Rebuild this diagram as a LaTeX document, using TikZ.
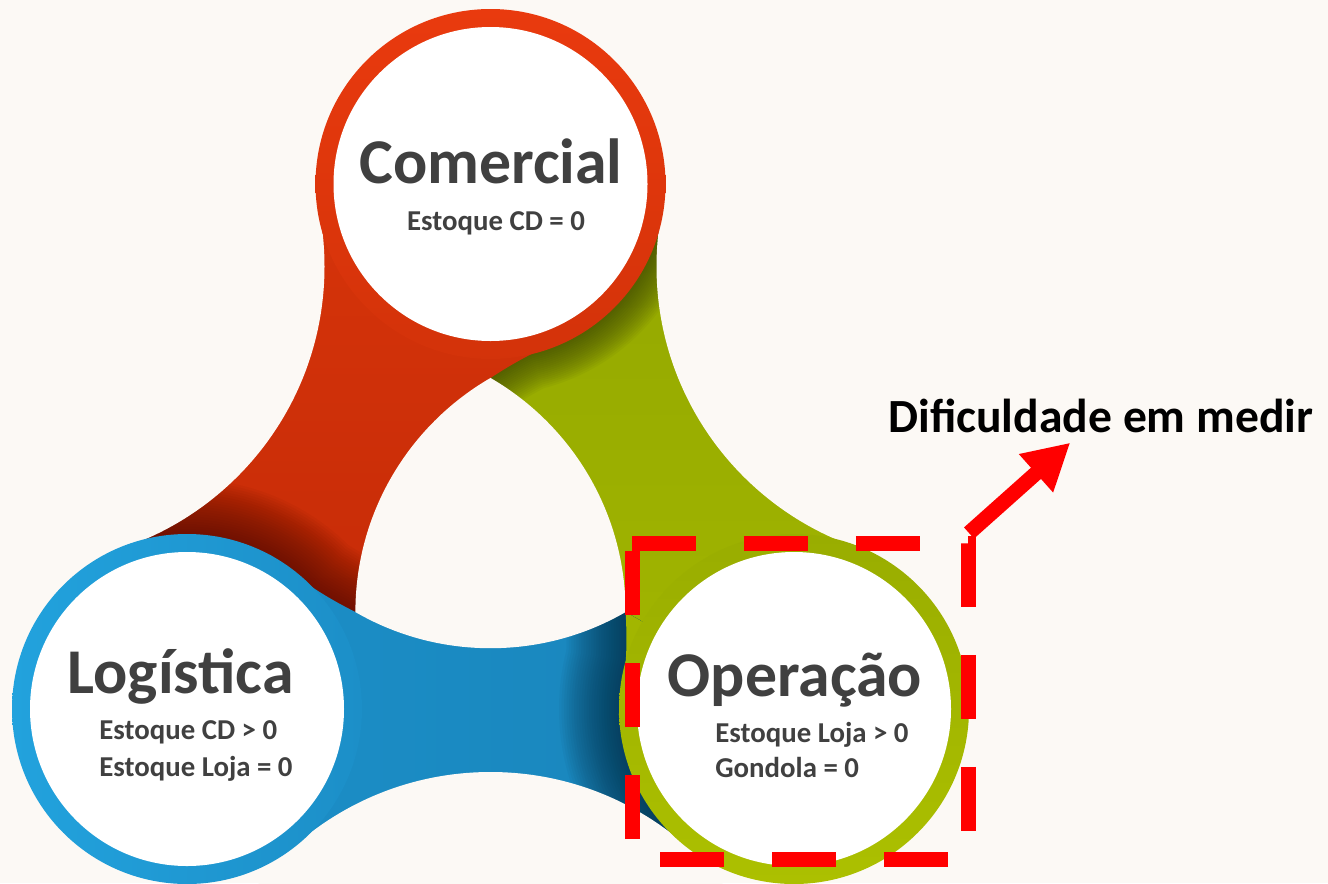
\documentclass[tikz,border=0pt]{standalone}
\usepackage{fontspec}
\setmainfont{Carlito}
\usetikzlibrary{arrows.meta}

\definecolor{cream}{HTML}{FCF9F5}
\definecolor{txtgray}{HTML}{404040}
\definecolor{redring}{HTML}{E93A0E}
\definecolor{redband}{HTML}{D6340A}
\definecolor{redlow}{HTML}{C42A07}
\definecolor{redshade}{HTML}{4A0A01}
\definecolor{bluering}{HTML}{22A2DD}
\definecolor{blueband}{HTML}{1C8FC8}
\definecolor{bluelow}{HTML}{1884BA}
\definecolor{blueshade}{HTML}{06283D}
\definecolor{greenring}{HTML}{ACC000}
\definecolor{greenband}{HTML}{93A700}
\definecolor{greenlow}{HTML}{A2B600}
\definecolor{greenshade}{HTML}{353D00}
\definecolor{alertred}{HTML}{FF0000}

\begin{document}
\begin{tikzpicture}[x=0.02cm, y=-0.02cm,
  title/.style={font=\bfseries\fontsize{36.3}{42}\selectfont, text=txtgray,
                inner sep=0pt, anchor=base},
  sub/.style={font=\bfseries\fontsize{16.4}{20}\selectfont, text=txtgray,
              inner sep=0pt, anchor=base west},
  note/.style={font=\bfseries\fontsize{27.1}{30}\selectfont, text=black,
               inner sep=0pt, anchor=base west},
  alertbox/.style={draw=alertred, line width=0.3cm, dash pattern=on 1.28cm off 0.96cm},
  pointer/.style={draw=alertred, line width=0.3cm, -{Triangle[length=0.92cm, width=0.96cm]}},
]
  % --- canvas ---
  \useasboundingbox (0,0) rectangle (1328,883);
  \fill[cream] (0,0) rectangle (1328,883);

  % --- circle centres, hole corners, band corners ---
  \coordinate (com) at (490.5,184);
  \coordinate (log) at (187,709);
  \coordinate (ope) at (794,709);
  \coordinate (hv1) at (490.5,378);
  \coordinate (hv2) at (355.4,612);
  \coordinate (hv3) at (625.6,612);
  \coordinate (ra) at (319.3,214.5);
  \coordinate (rb) at (128.2,545.5);
  \coordinate (rf) at (583.2,332.4);
  \coordinate (ba) at (299.4,842);
  \coordinate (bb) at (681.6,842);
  \coordinate (bf) at (269.6,554.5);
  \coordinate (ga) at (852.8,545.5);
  \coordinate (gb) at (661.7,214.5);
  \coordinate (gf) at (618.7,715);

  % --- green band (Operacao -> Comercial) ---
  \shade[top color=greenband, bottom color=greenlow]
    (ope) -- (ga) -- (gb) -- (com) -- (hv1) -- (hv3)
    .. controls (628.4,659.2) and (623.7,685.4) .. (gf) -- cycle;
  \begin{scope}
    \clip (ope) -- (ga) -- (gb) -- (com) -- (hv1) -- (hv3)
      .. controls (628.4,659.2) and (623.7,685.4) .. (gf) -- cycle;
    \foreach \w in {4,8,...,72}
      \draw[greenshade, opacity=0.05, line width=\w*0.02cm]
        (com) circle (175) (hv1) .. controls (530,352) and (555,343) .. (rf);
  \end{scope}

  % --- red band (Comercial -> Logistica) ---
  \shade[top color=redband, bottom color=redlow]
    (com) -- (ra) -- (rb) -- (log) -- (hv2) -- (hv1)
    .. controls (530,352) and (555,343) .. (rf) -- cycle;
  \begin{scope}
    \clip (com) -- (ra) -- (rb) -- (log) -- (hv2) -- (hv1)
      .. controls (530,352) and (555,343) .. (rf) -- cycle;
    \foreach \w in {5,10,...,110}
      \draw[redshade, opacity=0.045, line width=\w*0.02cm]
        (log) circle (175) (bf) .. controls (292.8,573.6) and (313.1,590.8) .. (hv2);
  \end{scope}

  % --- blue band (Logistica -> Operacao) ---
  \shade[left color=blueband, right color=bluelow]
    (log) -- (bf) .. controls (292.8,573.6) and (313.1,590.8) .. (hv2)
    -- (hv3) -- (ope) -- (bb) -- (ba) -- cycle;
  \begin{scope}
    \clip (log) -- (bf) .. controls (292.8,573.6) and (313.1,590.8) .. (hv2)
      -- (hv3) -- (ope) -- (bb) -- (ba) -- cycle;
    \foreach \w in {5,10,...,120}
      \draw[blueshade, opacity=0.045, line width=\w*0.02cm]
        (ope) circle (175) (hv3) .. controls (628.4,659.2) and (623.7,685.4) .. (gf);
  \end{scope}
  % green flare over the blue end
  \fill[greenlow] (hv3) .. controls (628.4,659.2) and (623.7,685.4) .. (gf) -- (ope) -- cycle;

  % --- central hole and outer cuts ---
  \begin{scope}
    \clip (hv1) circle (270.2);
    \clip (hv2) circle (270.2);
    \fill[cream] (hv3) circle (270.2);
  \end{scope}
  \fill[cream] (27.5,266.5) circle (297);
  \fill[cream] (490.5,1069) circle (297);
  \fill[cream] (953.5,266.5) circle (297);

  % --- rings ---
  \shade[top color=redring, bottom color=redband!85!redlow] (com) circle (175);
  \fill[white] (com) circle (157);
  \shade[left color=bluering, right color=blueband] (log) circle (175);
  \fill[white] (log) circle (157);
  \shade[top color=greenband!60!greenlow, bottom color=greenring] (ope) circle (175);
  \fill[white] (ope) circle (157);

  % --- texts ---
  \node[title] (comt) at (491,183) {Comercial};
  \node[sub, anchor=base] (comd) at (496,230) {Estoque CD = 0};
  \node[title] (logt) at (180.5,693) {Logística};
  \node[sub] (logd1) at (99,739) {Estoque CD > 0};
  \node[sub] (logd2) at (99,776) {Estoque Loja = 0};
  \node[title] (opet) at (795,696) {Operação};
  \node[sub] (oped1) at (715,742) {Estoque Loja > 0};
  \node[sub] (oped2) at (715,777) {Gondola = 0};

  % --- highlight ---
  \coordinate (boxnw) at (632,543);
  \coordinate (boxse) at (968,859);
  \draw[alertbox] (boxnw) -- (boxse |- boxnw) -- (boxse) -- (boxnw |- boxse) -- cycle;
  \node[note] (hard) at (888,432) {Dificuldade em medir};
  \coordinate (tail) at (969,533);
  \draw[pointer, shorten >=0.3cm] (tail) -- (hard);
\end{tikzpicture}
\end{document}
